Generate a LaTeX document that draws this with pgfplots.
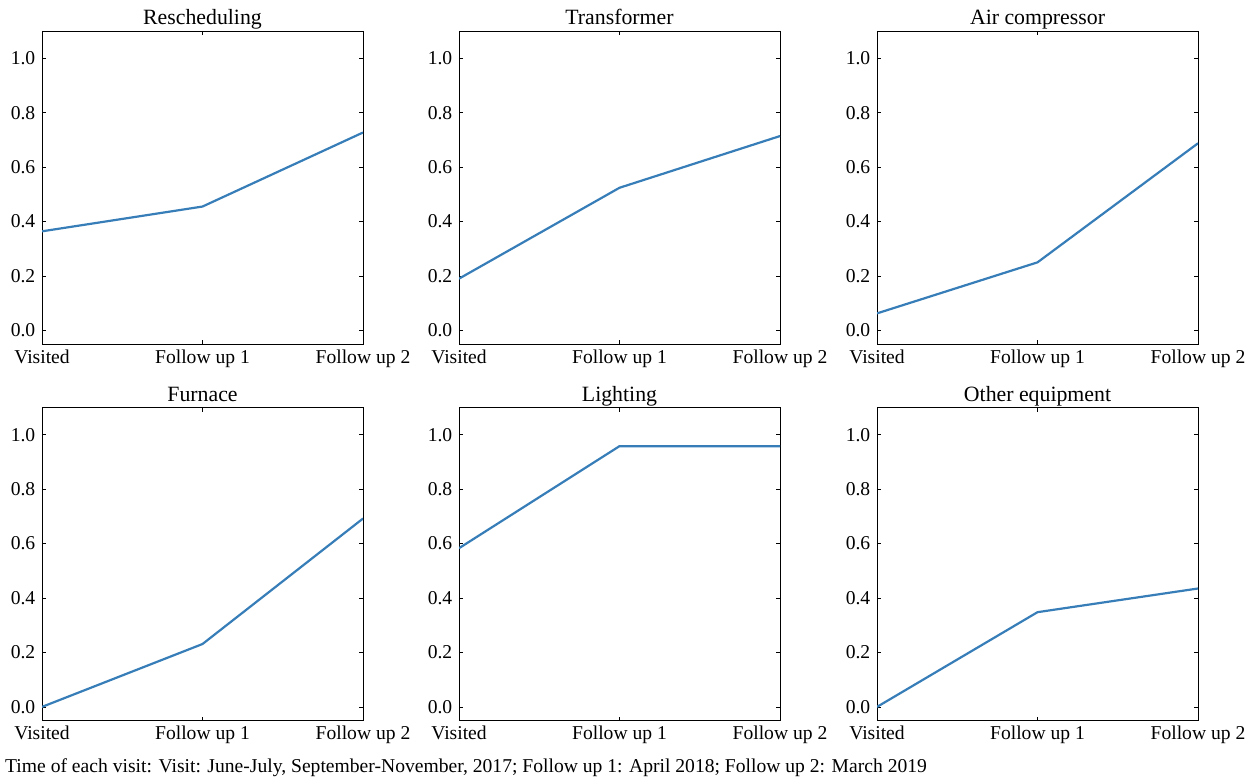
\documentclass[border=0pt]{standalone}
\usepackage{pgfplots}
\pgfplotsset{compat=1.18}
\usepackage{fontspec}
\setmainfont{Liberation Serif}
\definecolor{lineblue}{RGB}{55,126,184}
\pgfplotsset{
  panel/.style={
    scale only axis,
    width=321pt, height=313pt,
    anchor=south west,
    xmin=0, xmax=2, ymin=-0.05, ymax=1.1,
    xtick={0,1,2},
    xticklabels={Visited,Follow up 1,Follow up 2},
    ytick={0,0.2,0.4,0.6,0.8,1.0},
    yticklabel style={/pgf/number format/.cd, fixed, fixed zerofill, precision=1, assume math mode=true},
    xticklabel style={yshift=1pt},
    tick align=inside,
    major tick length=4pt,
    tick style={black, line width=0.6pt},
    axis line style={black, line width=0.9pt},
    title style={at={(0.5,1)}, anchor=base, font=\fontsize{21.8}{26}\selectfont},
    font=\fontsize{19.6}{24}\selectfont,
  }
}
\begin{document}
\fontsize{19.6}{24}\selectfont
\begin{tikzpicture}
\useasboundingbox (0pt,0pt) rectangle (1257pt,780pt);
\begin{axis}[panel, at={(42pt,436pt)}, title={Rescheduling}]
\addplot[lineblue, line width=2.2pt, mark=none] coordinates {(0,0.364) (1,0.455) (2,0.727)};
\end{axis}
\begin{axis}[panel, at={(459pt,436pt)}, title={Transformer}]
\addplot[lineblue, line width=2.2pt, mark=none] coordinates {(0,0.190) (1,0.524) (2,0.714)};
\end{axis}
\begin{axis}[panel, at={(877pt,436pt)}, title={Air compressor}]
\addplot[lineblue, line width=2.2pt, mark=none] coordinates {(0,0.0625) (1,0.25) (2,0.6875)};
\end{axis}
\begin{axis}[panel, at={(42pt,59.5pt)}, title={Furnace}]
\addplot[lineblue, line width=2.2pt, mark=none] coordinates {(0,0.0) (1,0.231) (2,0.692)};
\end{axis}
\begin{axis}[panel, at={(459pt,59.5pt)}, title={Lighting}]
\addplot[lineblue, line width=2.2pt, mark=none] coordinates {(0,0.583) (1,0.958) (2,0.958)};
\end{axis}
\begin{axis}[panel, at={(877pt,59.5pt)}, title={Other equipment}]
\addplot[lineblue, line width=2.2pt, mark=none] coordinates {(0,0.0) (1,0.348) (2,0.435)};
\end{axis}
\node[anchor=base west, inner sep=0pt] at (5pt,8pt) {Time of each visit: Visit: June-July, September-November, 2017; Follow up 1: April 2018; Follow up 2: March 2019};
\end{tikzpicture}
\end{document}
